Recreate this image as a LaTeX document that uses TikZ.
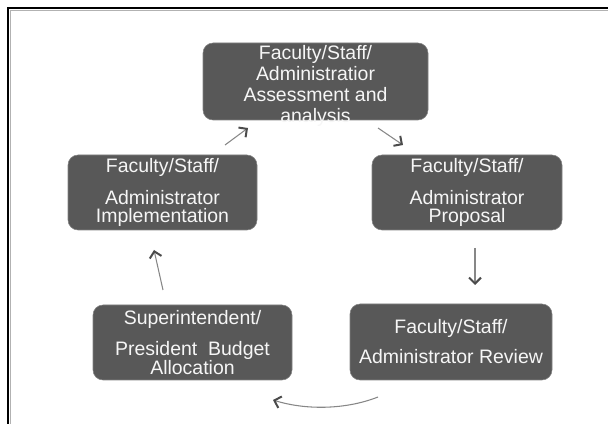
\documentclass[tikz,border=0pt]{standalone}
\usepackage{fontspec}
\setmainfont{Liberation Sans}
\usetikzlibrary{arrows.meta}
\definecolor{boxfill}{RGB}{88,88,88}
\definecolor{boxtext}{RGB}{246,246,246}
\definecolor{arrowline}{RGB}{135,135,135}
\definecolor{arrowhead}{RGB}{75,75,75}
\begin{document}
\begin{tikzpicture}[x=0.75pt,y=-0.75pt,
  stagebox/.style={draw=boxfill!75!white, line width=0.4pt, fill=boxfill, rounded corners=7.5pt, inner sep=0pt},
  stagetext/.style={text=boxtext, align=center, inner sep=0pt},
  flow/.style={draw=arrowline, line width=0.8pt, -{Straight Barb[length=4.5pt,width=9pt,line width=1.5pt,color=arrowhead]}}]
\useasboundingbox (0,0) rectangle (608,424);
% frame (top and left edges)
\draw[line width=1.3pt, black] (8,424) -- (8,8) -- (608,8);
\draw[line width=0.5pt, gray!60] (10,424) -- (10,10) -- (608,10);
% boxes
\node[stagebox, minimum width=168.75pt, minimum height=57.75pt] (top) at (315.5,81.5) {};
\node[stagebox, minimum width=141.75pt, minimum height=56.25pt] (impl) at (162.5,192.5) {};
\node[stagebox, minimum width=142.5pt, minimum height=56.25pt] (prop) at (467,192.5) {};
\node[stagebox, minimum width=149.25pt, minimum height=56.25pt] (budget) at (192.5,342.5) {};
\node[stagebox, minimum width=151.5pt, minimum height=57pt] (review) at (451,342) {};
% texts
\node[stagetext, font=\fontsize{14.6pt}{15.75pt}\selectfont, yshift=-3pt] (topt) at (top.center)
  {Faculty/Staff/\\Administratior\\Assessment and\\analysis};
\node[stagetext, font=\fontsize{14.6pt}{13.5pt}\selectfont] (implt) at (impl.center)
  {Faculty/Staff/\\[9pt]Administrator\\Implementation};
\node[stagetext, font=\fontsize{14.6pt}{13.5pt}\selectfont] (propt) at (prop.center)
  {Faculty/Staff/\\[9pt]Administrator\\Proposal};
\node[stagetext, font=\fontsize{14.6pt}{13.75pt}\selectfont] (budgett) at (budget.center)
  {Superintendent/\\[9.5pt]President\ \ Budget\\Allocation};
\node[stagetext, font=\fontsize{14.6pt}{22.5pt}\selectfont] (reviewt) at (review.center)
  {Faculty/Staff/\\Administrator Review};
% connector end points
\coordinate (a1s) at (225,145); \coordinate (a1e) at (248,128);
\coordinate (a2s) at (378,128); \coordinate (a2e) at (403,145);
\coordinate (a3s) at (475,248); \coordinate (a3e) at (475,285);
\coordinate (a4s) at (378,397); \coordinate (a4e) at (273,400);
\coordinate (a5s) at (163,290); \coordinate (a5e) at (154,250);
\draw[flow] (a1s) -- (a1e);
\draw[flow] (a2s) -- (a2e);
\draw[flow] (a3s) -- (a3e);
\draw[flow] (a4s) .. controls (345,410) and (305,410) .. (a4e);
\draw[flow] (a5s) -- (a5e);
\end{tikzpicture}
\end{document}
